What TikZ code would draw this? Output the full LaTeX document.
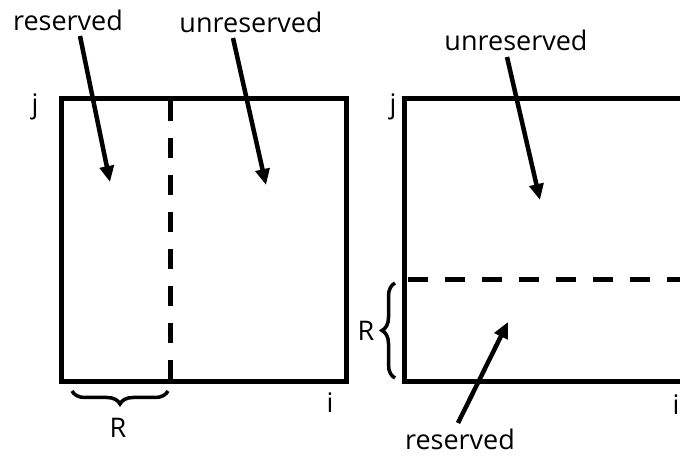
\documentclass[tikz,border=0pt]{standalone}
\usepackage{fontspec}
\setmainfont{Open Sans}
\usetikzlibrary{arrows.meta,decorations.pathreplacing}
\begin{document}
\begin{tikzpicture}[x=1pt,y=1pt,
  box/.style={line width=5pt},
  dashline/.style={line width=5pt, dash pattern=on 20pt off 17pt},
  arr/.style={line width=4.5pt,-{Triangle[length=16pt,width=14pt]}},
  brc/.style={line width=3.5pt, decorate, decoration={brace, amplitude=13pt}},
  lbl/.style={font=\fontsize{27}{29}\selectfont, inner sep=0pt}]
\useasboundingbox (0,0) rectangle (680,460);
\clip (0,0) rectangle (680,460);
% left panel
\draw[box] (61,78) rectangle (346,361);
\coordinate (ld1) at (170,359);
\coordinate (ld2) at (170,80);
\draw[dashline] (ld1) -- (ld2);
\node[lbl] (lj) at (35,353) {j};
\node[lbl] (li) at (330,57) {i};
\node[lbl] (lr) at (118,32) {R};
\coordinate (lb1) at (72,69);
\coordinate (lb2) at (168,69);
\draw[brc, decoration={mirror}] (lb1) -- (lb2);
\node[lbl] (lres) at (68,440) {reserved};
\node[lbl] (lunres) at (251,438) {unreserved};
\coordinate (la1) at (110,278);
\coordinate (la2) at (266,275);
\draw[arr] (80,424) -- (la1);
\draw[arr] (233,422) -- (la2);
% right panel
\draw[box] (404,78) rectangle (730,361);
\coordinate (rd1) at (408,180);
\coordinate (rd2) at (700,180);
\draw[dashline] (rd1) -- (rd2);
\node[lbl] (rj) at (393,353) {j};
\node[lbl] (ri) at (676,55) {i};
\node[lbl] (rr) at (366,129) {R};
\coordinate (rb1) at (395,82);
\coordinate (rb2) at (395,177);
\draw[brc] (rb1) -- (rb2);
\node[lbl] (runres) at (516,420) {unreserved};
\node[lbl] (rres) at (460,21) {reserved};
\coordinate (ra1) at (540,260);
\coordinate (ra2) at (508,138);
\draw[arr] (507,403) -- (ra1);
\draw[arr] (458,37) -- (ra2);
\end{tikzpicture}
\end{document}
